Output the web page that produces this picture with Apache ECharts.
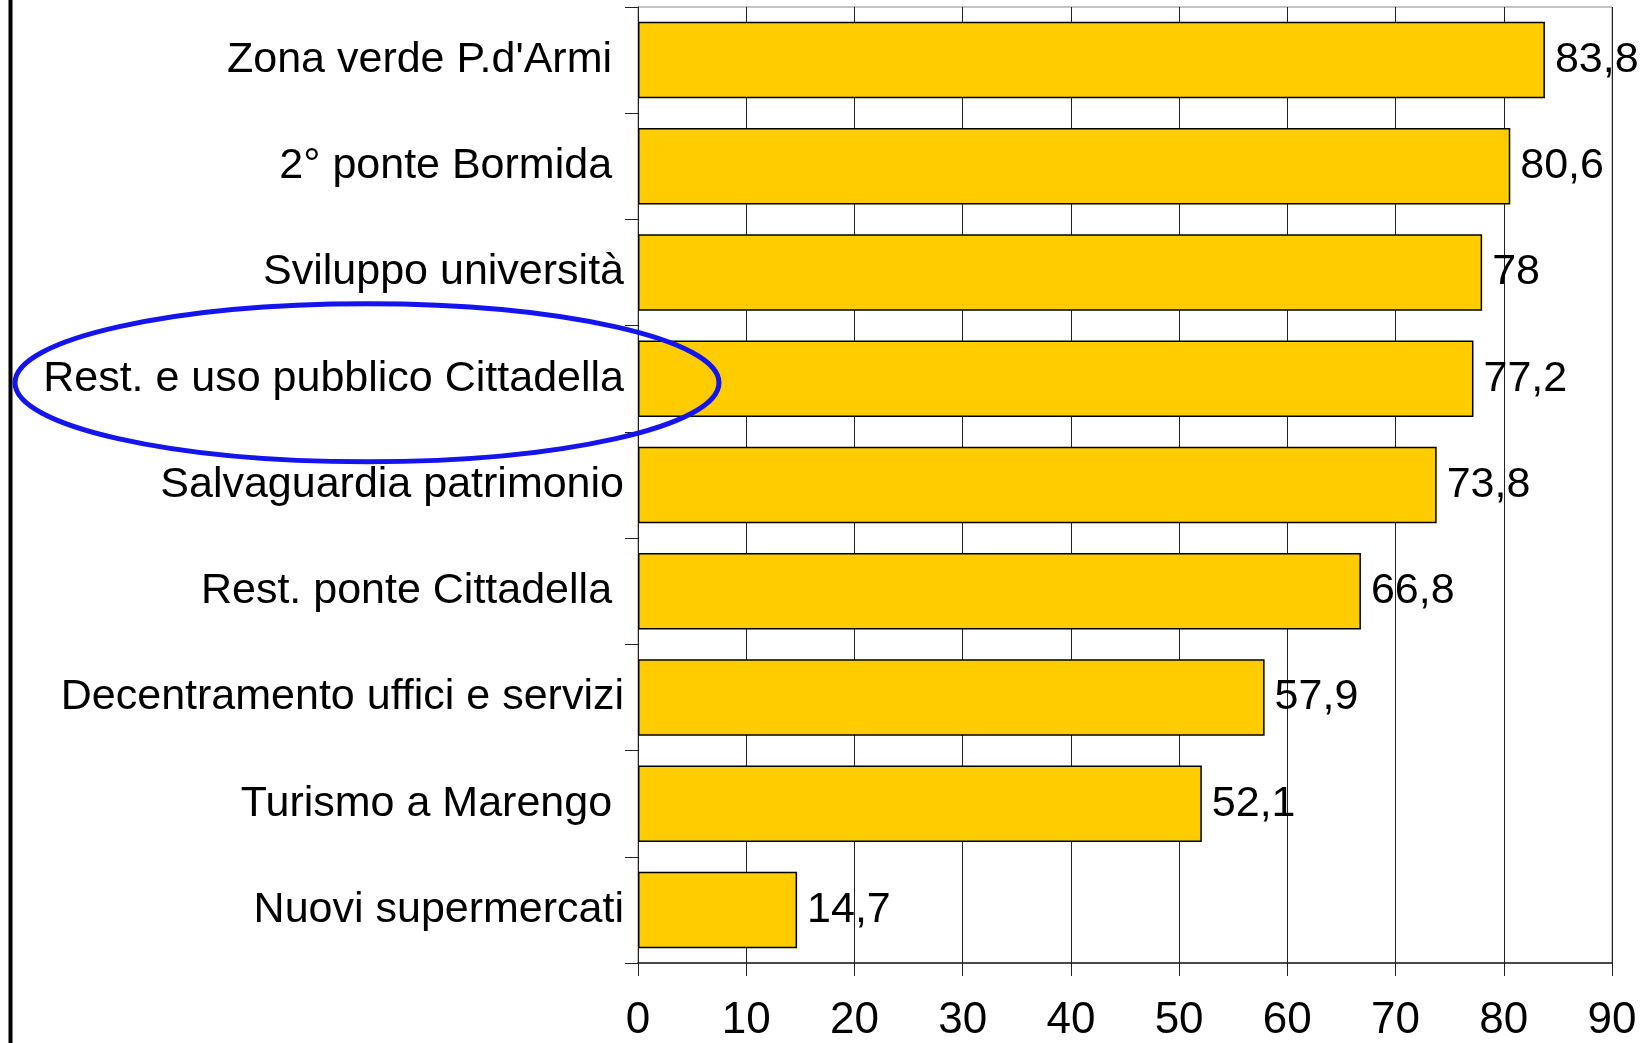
<!DOCTYPE html>
<html>
<head>
<meta charset="utf-8">
<script src="https://cdn.jsdelivr.net/npm/echarts@6/dist/echarts.min.js"></script>
<style>
  html, body { margin: 0; padding: 0; background: #fff; }
  #chart { width: 1650px; height: 1043px; }
</style>
</head>
<body>
<div id="chart"></div>
<script>
// categories, top to bottom (some carry a trailing space, as in the original)
const categories = [
  "Zona verde P.d'Armi ",
  "2° ponte Bormida ",
  "Sviluppo università",
  "Rest. e uso pubblico Cittadella",
  "Salvaguardia patrimonio",
  "Rest. ponte Cittadella ",
  "Decentramento uffici e servizi",
  "Turismo a Marengo ",
  "Nuovi supermercati",
];
const values = [83.8, 80.6, 78, 77.2, 73.8, 66.8, 57.9, 52.1, 14.7];
const xTicks = [0, 10, 20, 30, 40, 50, 60, 70, 80, 90];
const highlighted = "Rest. e uso pubblico Cittadella";

const font = "'Liberation Sans', Arial, sans-serif";
const myChart = echarts.init(document.getElementById("chart"));

const option = {
  animation: false,
  backgroundColor: "#fff",
  grid: {
    left: 638,
    right: 38,
    top: 7,
    bottom: 80,
    show: true,
    borderColor: "#888",
    borderWidth: 1,
  },
  xAxis: {
    type: "value",
    min: xTicks[0],
    max: xTicks[xTicks.length - 1],
    interval: 10,
    axisLine: { show: true, lineStyle: { color: "#222", width: 1.5 } },
    axisTick: { show: true, length: 13, lineStyle: { color: "#222" } },
    axisLabel: {
      fontFamily: font,
      fontSize: 44,
      color: "#000",
      margin: 36,
    },
    splitLine: { show: true, lineStyle: { color: "#222", width: 1 } },
  },
  yAxis: {
    type: "category",
    inverse: true,
    data: categories,
    axisLine: { show: true, lineStyle: { color: "#222", width: 1 } },
    axisTick: { show: true, length: 13, lineStyle: { color: "#222" } },
    axisLabel: {
      fontFamily: font,
      fontSize: 43,
      color: "#000",
      margin: 14,
    },
    splitLine: { show: false },
  },
  series: [
    {
      type: "bar",
      data: values,
      barCategoryGap: "28%",
      itemStyle: { color: "#ffcc00", borderColor: "#000", borderWidth: 1.5 },
      label: {
        show: true,
        position: "right",
        distance: 10,
        fontFamily: font,
        fontSize: 43,
        color: "#000",
        formatter: (p) => String(p.value).replace(".", ","),
      },
    },
  ],
};

myChart.setOption(option);

// hand-drawn style annotations: ellipse round the highlighted label, black rule on the left
const cy = myChart.convertToPixel({ yAxisIndex: 0 }, highlighted) + 4;
myChart.setOption({
  graphic: [
    {
      type: "line",
      z: 100,
      shape: { x1: 10.5, y1: 0, x2: 10.5, y2: 1043 },
      style: { stroke: "#000", lineWidth: 4 },
    },
    {
      type: "ellipse",
      z: 100,
      shape: { cx: 367, cy: cy, rx: 352, ry: 79 },
      style: { fill: null, stroke: "#1414ee", lineWidth: 5 },
    },
  ],
});
</script>
</body>
</html>
